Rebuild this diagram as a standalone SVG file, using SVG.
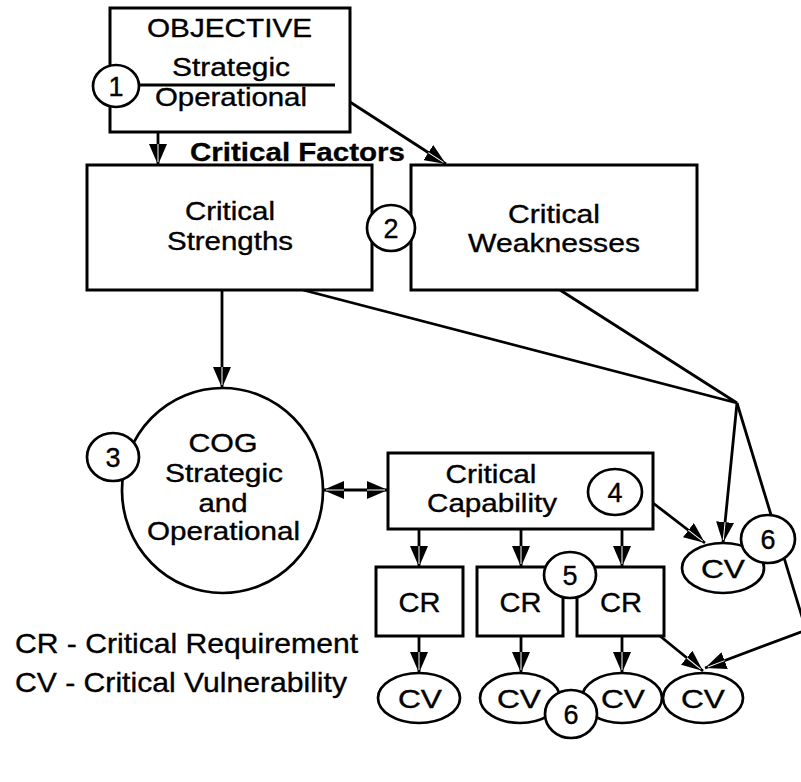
<svg xmlns="http://www.w3.org/2000/svg" width="801" height="782" viewBox="0 0 801 782">
  <style>
    .box { fill: #fff; stroke: #000; stroke-width: 3; }
    .oval { fill: #fff; stroke: #000; stroke-width: 2.7; }
    .line { fill: none; stroke: #000; stroke-width: 2.8; }
    .arrow { fill: none; stroke: #000; stroke-width: 2.8; marker-end: url(#head); }
    .dbl { fill: none; stroke: #000; stroke-width: 2.8; marker-start: url(#head); marker-end: url(#head); }
    text { font-family: "Liberation Sans", Arial, sans-serif; fill: #000; stroke: #000; stroke-width: 0.35; text-anchor: middle; }
    .t { font-size: 25px; }
    .num { font-size: 27px; }
    .cv { font-size: 25px; }
    .cr { font-size: 28px; }
    .legend { font-size: 28px; text-anchor: start; }
    .bold { font-size: 25px; font-weight: bold; text-anchor: start; stroke-width: 0.3; }
  </style>
  <defs>
    <marker id="head" markerUnits="userSpaceOnUse" viewBox="0 0 21 18" refX="21" refY="9" markerWidth="21" markerHeight="18" orient="auto-start-reverse">
      <path d="M0,0 L21,9 L0,18 Z" fill="#000"/>
      <path d="M0,9 L18,9" stroke="#fff" stroke-width="1"/>
    </marker>
  </defs>

  <!-- connectors -->
  <g id="connectors">
    <line class="arrow" x1="158" y1="132" x2="158" y2="165"/>
    <line class="arrow" x1="350" y1="102" x2="446" y2="164"/>
    <line class="arrow" x1="222" y1="290" x2="222" y2="388"/>
    <line class="dbl" x1="323" y1="490" x2="388" y2="490"/>
    <polyline class="line" points="303,290 737,403 560,290"/>
    <line class="arrow" x1="737" y1="403" x2="723" y2="543"/>
    <polyline class="arrow" points="737,403 806,630 705,668"/>
    <line class="arrow" x1="653" y1="503" x2="705" y2="543"/>
    <line class="arrow" x1="419" y1="529" x2="419" y2="567"/>
    <line class="arrow" x1="521" y1="529" x2="521" y2="567"/>
    <line class="arrow" x1="622" y1="529" x2="622" y2="567"/>
    <line class="arrow" x1="419" y1="636" x2="419" y2="673"/>
    <line class="arrow" x1="521" y1="636" x2="521" y2="673"/>
    <line class="arrow" x1="622" y1="636" x2="622" y2="673"/>
    <line class="arrow" x1="660" y1="636" x2="703" y2="671"/>
  </g>

  <!-- objective -->
  <g id="objective">
    <rect class="box" x="110" y="8" width="240" height="124"/>
    <line class="line" x1="138" y1="85" x2="335" y2="85"/>
    <text class="t" x="229.5" y="37" font-size="22.5" textLength="165" lengthAdjust="spacingAndGlyphs">OBJECTIVE</text>
    <text class="t" x="231" y="76" font-size="22.5" textLength="118" lengthAdjust="spacingAndGlyphs">Strategic</text>
    <text class="t" x="231" y="106" font-size="23" textLength="152" lengthAdjust="spacingAndGlyphs">Operational</text>
  </g>
  <g id="badge-1">
    <ellipse class="oval" cx="116" cy="86" rx="23" ry="21"/>
    <text class="num" x="116" y="95.5">1</text>
  </g>

  <text id="critical-factors" class="bold" x="190" y="161" textLength="215" lengthAdjust="spacingAndGlyphs">Critical Factors</text>

  <!-- critical factors -->
  <g id="strengths">
    <rect class="box" x="87" y="165" width="285" height="125"/>
    <text class="t" x="230" y="220" textLength="90" lengthAdjust="spacingAndGlyphs">Critical</text>
    <text class="t" x="230" y="250" textLength="126" lengthAdjust="spacingAndGlyphs">Strengths</text>
  </g>
  <g id="weaknesses">
    <rect class="box" x="411" y="165" width="286" height="125"/>
    <text class="t" x="554" y="223" textLength="92" lengthAdjust="spacingAndGlyphs">Critical</text>
    <text class="t" x="554" y="252" textLength="172" lengthAdjust="spacingAndGlyphs">Weaknesses</text>
  </g>
  <g id="badge-2">
    <ellipse class="oval" cx="391" cy="228" rx="24" ry="23"/>
    <text class="num" x="391" y="237.5">2</text>
  </g>

  <!-- center of gravity -->
  <g id="cog">
    <ellipse class="oval" cx="222.5" cy="490.5" rx="100.5" ry="102.5"/>
    <text class="t" x="223" y="452" font-size="22" textLength="69" lengthAdjust="spacingAndGlyphs">COG</text>
    <text class="t" x="224" y="482" font-size="22" textLength="118" lengthAdjust="spacingAndGlyphs">Strategic</text>
    <text class="t" x="223" y="512" font-size="22" textLength="49" lengthAdjust="spacingAndGlyphs">and</text>
    <text class="t" x="223.5" y="540" font-size="22" textLength="153" lengthAdjust="spacingAndGlyphs">Operational</text>
  </g>
  <g id="badge-3">
    <ellipse class="oval" cx="113" cy="457" rx="26" ry="24"/>
    <text class="num" x="113" y="466.5">3</text>
  </g>

  <!-- capability -->
  <g id="capability">
    <rect class="box" x="388" y="453" width="265" height="76"/>
    <text class="t" x="491" y="483" font-size="27" textLength="91" lengthAdjust="spacingAndGlyphs">Critical</text>
    <text class="t" x="492" y="512" font-size="27" textLength="130" lengthAdjust="spacingAndGlyphs">Capability</text>
  </g>
  <g id="badge-4">
    <ellipse class="oval" cx="615" cy="492" rx="27" ry="23"/>
    <text class="num" x="615" y="501.5">4</text>
  </g>

  <!-- requirements -->
  <g id="cr-1">
    <rect class="box" x="376" y="567" width="87" height="69"/>
    <text class="cr" x="419.5" y="612" textLength="42" lengthAdjust="spacingAndGlyphs">CR</text>
  </g>
  <g id="cr-2">
    <rect class="box" x="477" y="567" width="86" height="69"/>
    <text class="cr" x="520.5" y="612" textLength="42" lengthAdjust="spacingAndGlyphs">CR</text>
  </g>
  <g id="cr-3">
    <rect class="box" x="577" y="567" width="87" height="69"/>
    <text class="cr" x="621" y="612" textLength="42" lengthAdjust="spacingAndGlyphs">CR</text>
  </g>
  <g id="badge-5">
    <ellipse class="oval" cx="570" cy="575" rx="26" ry="23"/>
    <text class="num" x="570" y="584.5">5</text>
  </g>

  <!-- vulnerabilities -->
  <g id="cv-side">
    <ellipse class="oval" cx="723" cy="568" rx="41" ry="25"/>
    <text class="cv" x="723" y="578" textLength="44" lengthAdjust="spacingAndGlyphs">CV</text>
  </g>
  <g id="badge-6a">
    <ellipse class="oval" cx="768" cy="539" rx="27" ry="24"/>
    <text class="num" x="768" y="548.5">6</text>
  </g>
  <g id="cv-1">
    <ellipse class="oval" cx="419" cy="698" rx="41" ry="25"/>
    <text class="cv" x="420" y="708" textLength="44" lengthAdjust="spacingAndGlyphs">CV</text>
  </g>
  <g id="cv-2">
    <ellipse class="oval" cx="520" cy="698" rx="40" ry="25"/>
    <text class="cv" x="519" y="708" textLength="44" lengthAdjust="spacingAndGlyphs">CV</text>
  </g>
  <g id="cv-3">
    <ellipse class="oval" cx="622" cy="698" rx="40" ry="25"/>
    <text class="cv" x="623" y="708" textLength="44" lengthAdjust="spacingAndGlyphs">CV</text>
  </g>
  <g id="cv-4">
    <ellipse class="oval" cx="703" cy="698" rx="40" ry="25"/>
    <text class="cv" x="703" y="708" textLength="44" lengthAdjust="spacingAndGlyphs">CV</text>
  </g>
  <g id="badge-6b">
    <ellipse class="oval" cx="571" cy="714" rx="26" ry="24"/>
    <text class="num" x="571" y="723.5">6</text>
  </g>

  <!-- legend -->
  <g id="legend">
    <text class="legend" x="15" y="653" textLength="343" lengthAdjust="spacingAndGlyphs">CR - Critical Requirement</text>
    <text class="legend" x="15" y="692" textLength="332" lengthAdjust="spacingAndGlyphs">CV - Critical Vulnerability</text>
  </g>
</svg>
